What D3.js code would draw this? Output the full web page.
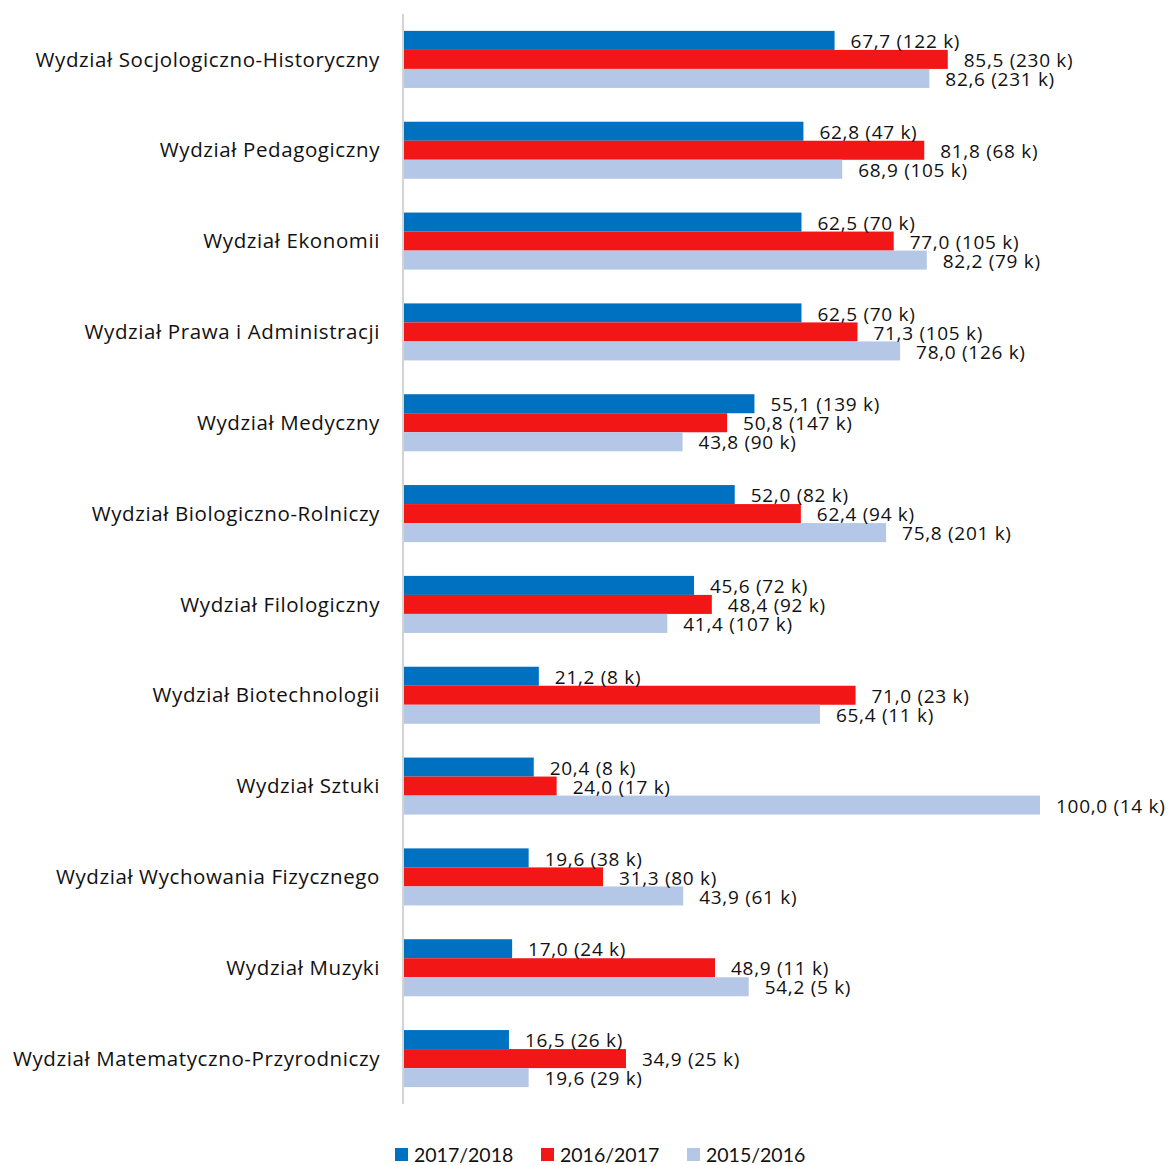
<!DOCTYPE html>
<html>
<head>
<meta charset="utf-8">
<script src="https://cdn.jsdelivr.net/npm/d3@7"></script>
<style>
	body { margin: 0; background: #fff; }
	svg text { font-family: "Open Sans", Lato, sans-serif; fill: #111; }
</style>
</head>
<body>
<svg id="chart"></svg>
<script>
const categories = [
	"Wydział Socjologiczno-Historyczny",
	"Wydział Pedagogiczny",
	"Wydział Ekonomii",
	"Wydział Prawa i Administracji",
	"Wydział Medyczny",
	"Wydział Biologiczno-Rolniczy",
	"Wydział Filologiczny",
	"Wydział Biotechnologii",
	"Wydział Sztuki",
	"Wydział Wychowania Fizycznego",
	"Wydział Muzyki",
	"Wydział Matematyczno-Przyrodniczy"
];
const seriesNames = ["2017/2018", "2016/2017", "2015/2016"];
const values2017 = [67.7, 62.8, 62.5, 62.5, 55.1, 52.0, 45.6, 21.2, 20.4, 19.6, 17.0, 16.5];
const values2016 = [85.5, 81.8, 77.0, 71.3, 50.8, 62.4, 48.4, 71.0, 24.0, 31.3, 48.9, 34.9];
const values2015 = [82.6, 68.9, 82.2, 78.0, 43.8, 75.8, 41.4, 65.4, 100.0, 43.9, 54.2, 19.6];
const counts2017 = [122, 47, 70, 70, 139, 82, 72, 8, 8, 38, 24, 26];
const counts2016 = [230, 68, 105, 105, 147, 94, 92, 23, 17, 80, 11, 25];
const counts2015 = [231, 105, 79, 126, 90, 201, 107, 11, 14, 61, 5, 29];
const colors = ["#0070C0", "#F21616", "#B4C7E7"];

let width = 1170,
	height = 1165;

let svg = d3.select("#chart").attr("width", width).attr("height", height);

let x = d3.scaleLinear().domain([0, 100]).range([404, 1040]);
let y = d3.scaleBand().domain(categories).range([14, 1104]).paddingInner(0.372).paddingOuter(0.186);
let ySub = d3.scaleBand().domain(seriesNames).range([0, y.bandwidth()]);

const allValues = [values2017, values2016, values2015];
const allCounts = [counts2017, counts2016, counts2015];
const fmt = v => v.toFixed(1).replace(".", ",");

let rows = [];
categories.forEach((c, i) => {
	seriesNames.forEach((s, j) => {
		rows.push({ cat: c, series: s, idx: j, value: allValues[j][i], count: allCounts[j][i] });
	});
});

svg.selectAll(".bar")
	.data(rows)
	.enter()
	.append("rect")
	.attr("class", "bar")
	.attr("x", x(0))
	.attr("y", d => y(d.cat) + ySub(d.series))
	.attr("width", d => x(d.value) - x(0))
	.attr("height", ySub.bandwidth())
	.style("fill", d => colors[d.idx]);

// axis line
svg.append("line")
	.attr("x1", 403).attr("x2", 403)
	.attr("y1", 14).attr("y2", 1104)
	.style("stroke", "#d4d4d4")
	.style("stroke-width", 2);

svg.selectAll(".cat")
	.data(categories)
	.enter()
	.append("text")
	.attr("class", "cat")
	.attr("x", 380)
	.attr("y", d => y(d) + y.bandwidth() / 2)
	.attr("dy", "0.35em")
	.attr("text-anchor", "end")
	.attr("font-size", "20.5px")
	.style("letter-spacing", "0.6px")
	.text(d => d);

svg.selectAll(".lbl")
	.data(rows)
	.enter()
	.append("text")
	.attr("class", "lbl")
	.attr("x", d => x(d.value) + 16)
	.attr("y", d => y(d.cat) + ySub(d.series) + ySub.bandwidth() / 2 + 1)
	.attr("dy", "0.35em")
	.attr("font-size", "19px")
	.style("letter-spacing", "0.7px")
	.text(d => `${fmt(d.value)} (${d.count} k)`);

let legend = svg.append("g").attr("transform", "translate(395,1148)");
let item = legend.selectAll("g")
	.data(seriesNames)
	.enter()
	.append("g")
	.attr("transform", (d, i) => `translate(${i * 146},0)`);
item.append("rect")
	.attr("width", 13)
	.attr("height", 13)
	.style("fill", (d, i) => colors[i]);
item.append("text")
	.attr("x", 19)
	.attr("y", 7)
	.attr("dy", "0.35em")
	.attr("font-size", "19.5px")
	.style("font-family", "Lato, sans-serif")
	.text(d => d);
</script>
</body>
</html>
